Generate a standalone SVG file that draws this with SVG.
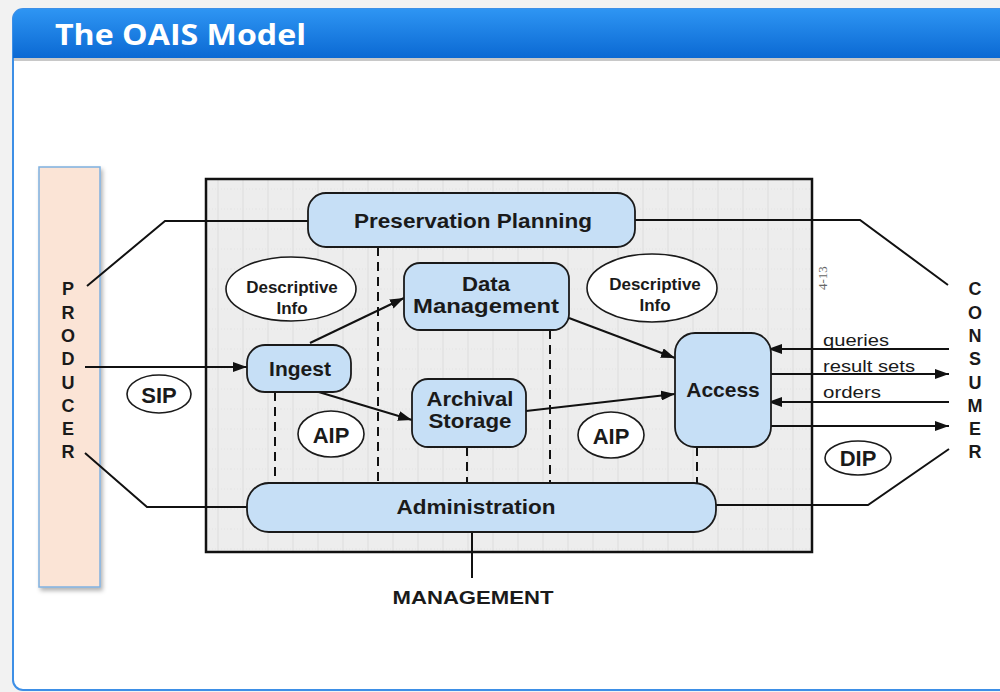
<svg xmlns="http://www.w3.org/2000/svg" width="1000" height="692" viewBox="0 0 1000 692">
<defs>
<linearGradient id="tb" x1="0" y1="0" x2="0" y2="1">
<stop offset="0" stop-color="#2e95f3"/>
<stop offset="1" stop-color="#0b69d3"/>
</linearGradient>
<pattern id="grid" x="206" y="179" width="25" height="20" patternUnits="userSpaceOnUse">
<rect width="25" height="20" fill="#ededed"/>
<line x1="12" y1="0" x2="12" y2="20" stroke="#dedede" stroke-width="1"/>
<line x1="0" y1="10" x2="25" y2="10" stroke="#e4e4e4" stroke-width="1" stroke-dasharray="1 2"/>
</pattern>
<marker id="ah" viewBox="0 0 14 10" refX="14" refY="5" markerWidth="14" markerHeight="10" markerUnits="userSpaceOnUse" orient="auto">
<path d="M0,0 L14,5 L0,10 z" fill="#111"/>
</marker>
<filter id="sh" x="-20%" y="-5%" width="150%" height="115%">
<feDropShadow dx="2" dy="3" stdDeviation="2" flood-color="#000" flood-opacity="0.3"/>
</filter>
</defs>
<style>
.box{fill:#c6dff6;stroke:#1a1a1a;stroke-width:1.8}
.ell{fill:#fff;stroke:#1a1a1a;stroke-width:1.6}
.lbl{font-family:"Liberation Sans",Arial,sans-serif;font-weight:bold;font-size:21px;fill:#1a1a1a;text-anchor:middle}
.lbl2{font-family:"Liberation Sans",Arial,sans-serif;font-weight:bold;font-size:19.5px;fill:#1a1a1a;text-anchor:middle}
.di{font-family:"Liberation Sans",Arial,sans-serif;font-weight:bold;font-size:17px;fill:#1a1a1a;text-anchor:middle}
.pk{font-family:"Liberation Sans",Arial,sans-serif;font-weight:bold;font-size:22px;fill:#1a1a1a;text-anchor:middle}
.flow{font-family:"Liberation Sans",Arial,sans-serif;font-size:17px;fill:#1a1a1a}
.side{font-family:"Liberation Sans",Arial,sans-serif;font-weight:bold;font-size:18px;fill:#1a1a1a;text-anchor:middle}
.ln{fill:none;stroke:#111;stroke-width:2}
.dash{fill:none;stroke:#111;stroke-width:2;stroke-dasharray:9 6}
</style>
<rect x="0" y="0" width="1000" height="692" fill="#f2f2f2"/>
<g id="slide">
<rect x="13" y="9" width="1000" height="681" rx="10" fill="#ffffff" stroke="#3d8fe6" stroke-width="2"/>
<path d="M13,58 V19 a10,10 0 0 1 10,-10 H1000 V58 z" fill="url(#tb)"/>
<rect x="14" y="58" width="986" height="3" fill="#c8c8c8"/>
<text x="55" y="45" font-family="'Open Sans','Liberation Sans',sans-serif" font-weight="bold" font-size="29" fill="#ffffff" textLength="251" lengthAdjust="spacingAndGlyphs">The OAIS Model</text>
</g>
<g id="producer">
<rect x="39" y="167" width="61" height="420" fill="#fbe4d6" stroke="#7fb0e0" stroke-width="1.5" filter="url(#sh)"/>
<text class="side" x="68"><tspan x="68" y="295">P</tspan><tspan x="68" y="319">R</tspan><tspan x="68" y="342">O</tspan><tspan x="68" y="365">D</tspan><tspan x="68" y="389">U</tspan><tspan x="68" y="412">C</tspan><tspan x="68" y="435">E</tspan><tspan x="68" y="458">R</tspan></text>
</g>
<g id="consumer">
<text class="side" x="975"><tspan x="975" y="295">C</tspan><tspan x="975" y="319">O</tspan><tspan x="975" y="342">N</tspan><tspan x="975" y="365">S</tspan><tspan x="975" y="389">U</tspan><tspan x="975" y="412">M</tspan><tspan x="975" y="435">E</tspan><tspan x="975" y="458">R</tspan></text>
</g>
<g id="archive-frame">
<rect x="206" y="179" width="606" height="373" fill="url(#grid)" stroke="#111" stroke-width="2.5"/>
<text x="827" y="290" transform="rotate(-90 827 290)" font-family="'Liberation Serif',serif" font-size="13" fill="#666">4-13</text>
</g>
<g id="connectors">
<polyline class="ln" points="87,286 165,221 308,221"/>
<polyline class="ln" points="635,220 860,220 948,285"/>
<polyline class="ln" points="85,453 147,507 247,507"/>
<polyline class="ln" points="715,505 868,505 949,449"/>
<line class="ln" x1="472" y1="532" x2="472" y2="578"/>
<line class="ln" x1="85" y1="367" x2="247" y2="367" marker-end="url(#ah)"/>
<line class="ln" x1="310" y1="343" x2="404" y2="298" marker-end="url(#ah)"/>
<line class="ln" x1="312" y1="390" x2="412" y2="420" marker-end="url(#ah)"/>
<line class="ln" x1="569" y1="318" x2="675" y2="358" marker-end="url(#ah)"/>
<line class="ln" x1="526" y1="411" x2="675" y2="394" marker-end="url(#ah)"/>
<line class="ln" x1="949" y1="349" x2="768" y2="349" marker-end="url(#ah)"/>
<line class="ln" x1="771" y1="374" x2="949" y2="374" marker-end="url(#ah)"/>
<line class="ln" x1="949" y1="402" x2="768" y2="402" marker-end="url(#ah)"/>
<line class="ln" x1="771" y1="426" x2="949" y2="426" marker-end="url(#ah)"/>
<line class="dash" x1="378" y1="247" x2="378" y2="483"/>
<line class="dash" x1="275" y1="392" x2="275" y2="483"/>
<line class="dash" x1="467" y1="447" x2="467" y2="483"/>
<line class="dash" x1="550" y1="330" x2="550" y2="483"/>
<line class="dash" x1="697" y1="447" x2="697" y2="483"/>
<text class="flow" x="823" y="346" textLength="66" lengthAdjust="spacingAndGlyphs">queries</text>
<text class="flow" x="823" y="372" textLength="92" lengthAdjust="spacingAndGlyphs">result sets</text>
<text class="flow" x="823" y="398" textLength="58" lengthAdjust="spacingAndGlyphs">orders</text>
</g>
<g id="preservation-planning">
<rect class="box" x="308" y="193" width="327" height="54" rx="18"/>
<text class="lbl" x="473" y="228" textLength="238" lengthAdjust="spacingAndGlyphs">Preservation Planning</text>
</g>
<g id="descriptive-info-left">
<ellipse class="ell" cx="291" cy="289" rx="65" ry="32"/>
<text class="di"><tspan x="292" y="293">Descriptive</tspan><tspan x="292" y="314">Info</tspan></text>
</g>
<g id="data-management">
<rect class="box" x="404" y="263" width="165" height="67" rx="16"/>
<text class="lbl2" x="486" y="291" textLength="48" lengthAdjust="spacingAndGlyphs">Data</text>
<text class="lbl2" x="486" y="313" textLength="146" lengthAdjust="spacingAndGlyphs">Management</text>
</g>
<g id="descriptive-info-right">
<ellipse class="ell" cx="652" cy="288" rx="65" ry="34"/>
<text class="di"><tspan x="655" y="290">Descriptive</tspan><tspan x="655" y="311">Info</tspan></text>
</g>
<g id="ingest">
<rect class="box" x="247" y="345" width="104" height="47" rx="18"/>
<text class="lbl" x="300" y="376">Ingest</text>
</g>
<g id="archival-storage">
<rect class="box" x="412" y="379" width="114" height="68" rx="16"/>
<text class="lbl2" x="470" y="406" textLength="87" lengthAdjust="spacingAndGlyphs">Archival</text>
<text class="lbl2" x="470" y="428" textLength="83" lengthAdjust="spacingAndGlyphs">Storage</text>
</g>
<g id="access">
<rect class="box" x="675" y="333" width="96" height="114" rx="20"/>
<text class="lbl" x="723" y="397">Access</text>
</g>
<g id="administration">
<rect class="box" x="247" y="483" width="469" height="49" rx="22"/>
<text class="lbl" x="476" y="514" textLength="159" lengthAdjust="spacingAndGlyphs">Administration</text>
</g>
<g id="sip">
<ellipse class="ell" cx="159" cy="394" rx="32" ry="19"/>
<text class="pk" x="159" y="403">SIP</text>
</g>
<g id="aip-left">
<ellipse class="ell" cx="331" cy="434" rx="33" ry="23"/>
<text class="pk" x="331" y="443">AIP</text>
</g>
<g id="aip-right">
<ellipse class="ell" cx="611" cy="435" rx="33" ry="23"/>
<text class="pk" x="611" y="444">AIP</text>
</g>
<g id="dip">
<ellipse class="ell" cx="858" cy="458" rx="33" ry="17"/>
<text class="pk" x="858" y="466">DIP</text>
</g>
<g id="management">
<text x="473" y="604" font-family="'Liberation Sans',Arial,sans-serif" font-weight="bold" font-size="19" fill="#1a1a1a" text-anchor="middle" textLength="161" lengthAdjust="spacingAndGlyphs">MANAGEMENT</text>
</g>
</svg>
